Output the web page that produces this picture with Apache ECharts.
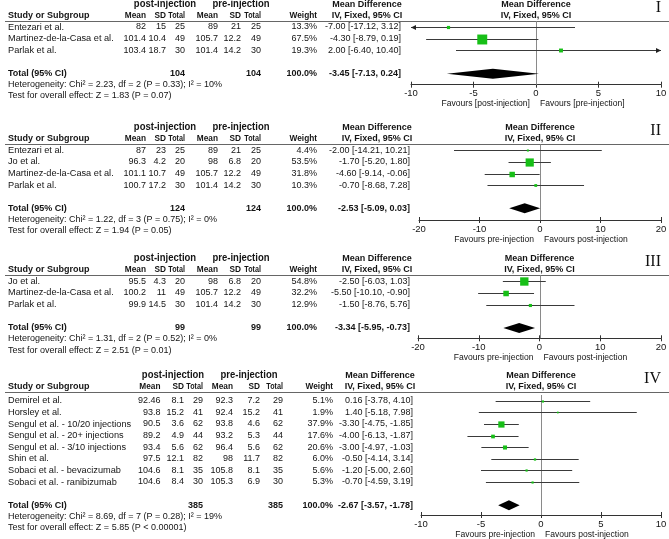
<!DOCTYPE html>
<html><head><meta charset="utf-8">
<script src="https://cdn.jsdelivr.net/npm/echarts@6/dist/echarts.min.js"></script>
<style>html,body{margin:0;padding:0;background:#fff}#c{width:669px;height:539px}</style>
</head><body><div id="c"></div>
<script>
// ---------- Panel I ----------
const p1Studies = ['Entezari et al.', 'Martinez-de-la-Casa et al.', 'Parlak et al.'];
const p1PostMean = [82, 101.4, 103.4];
const p1PostSD = [15, 10.4, 18.7];
const p1PostN = [25, 49, 30];
const p1PreMean = [89, 105.7, 101.4];
const p1PreSD = [21, 12.2, 14.2];
const p1PreN = [25, 49, 30];
const p1Weight = [13.3, 67.5, 19.3];
const p1MD = [-7.00, -4.30, 2.00];
const p1Lo = [-17.12, -8.79, -6.40];
const p1Hi = [3.12, 0.19, 10.40];
const p1Total = [104, 104, -3.45, -7.13, 0.24];
const p1Het = 'Heterogeneity: Chi² = 2.23, df = 2 (P = 0.33); I² = 10%';
const p1Test = 'Test for overall effect: Z = 1.83 (P = 0.07)';
const p1Favours = ['Favours [post-injection]', 'Favours [pre-injection]'];
const p1Ticks = [-10, -5, 0, 5, 10];

// ---------- Panel II ----------
const p2Studies = ['Entezari et al.', 'Jo et al.', 'Martinez-de-la-Casa et al.', 'Parlak et al.'];
const p2PostMean = [87, 96.3, 101.1, 100.7];
const p2PostSD = [23, 4.2, 10.7, 17.2];
const p2PostN = [25, 20, 49, 30];
const p2PreMean = [89, 98, 105.7, 101.4];
const p2PreSD = [21, 6.8, 12.2, 14.2];
const p2PreN = [25, 20, 49, 30];
const p2Weight = [4.4, 53.5, 31.8, 10.3];
const p2MD = [-2.00, -1.70, -4.60, -0.70];
const p2Lo = [-14.21, -5.20, -9.14, -8.68];
const p2Hi = [10.21, 1.80, -0.06, 7.28];
const p2Total = [124, 124, -2.53, -5.09, 0.03];
const p2Het = 'Heterogeneity: Chi² = 1.22, df = 3 (P = 0.75); I² = 0%';
const p2Test = 'Test for overall effect: Z = 1.94 (P = 0.05)';
const p2Favours = ['Favours pre-injection', 'Favours post-injection'];
const p2Ticks = [-20, -10, 0, 10, 20];

// ---------- Panel III ----------
const p3Studies = ['Jo et al.', 'Martinez-de-la-Casa et al.', 'Parlak et al.'];
const p3PostMean = [95.5, 100.2, 99.9];
const p3PostSD = [4.3, 11, 14.5];
const p3PostN = [20, 49, 30];
const p3PreMean = [98, 105.7, 101.4];
const p3PreSD = [6.8, 12.2, 14.2];
const p3PreN = [20, 49, 30];
const p3Weight = [54.8, 32.2, 12.9];
const p3MD = [-2.50, -5.50, -1.50];
const p3Lo = [-6.03, -10.10, -8.76];
const p3Hi = [1.03, -0.90, 5.76];
const p3Total = [99, 99, -3.34, -5.95, -0.73];
const p3Het = 'Heterogeneity: Chi² = 1.31, df = 2 (P = 0.52); I² = 0%';
const p3Test = 'Test for overall effect: Z = 2.51 (P = 0.01)';
const p3Favours = ['Favours pre-injection', 'Favours post-injection'];
const p3Ticks = [-20, -10, 0, 10, 20];

// ---------- Panel IV ----------
const p4Studies = ['Demirel et al.', 'Horsley et al.', 'Sengul et al. - 10/20 injections', 'Sengul et al. - 20+ injections',
  'Sengul et al. - 3/10 injections', 'Shin et al.', 'Sobaci et al. - bevacizumab', 'Sobaci et al. - ranibizumab'];
const p4PostMean = [92.46, 93.8, 90.5, 89.2, 93.4, 97.5, 104.6, 104.6];
const p4PostSD = [8.1, 15.2, 3.6, 4.9, 5.6, 12.1, 8.1, 8.4];
const p4PostN = [29, 41, 62, 44, 62, 82, 35, 30];
const p4PreMean = [92.3, 92.4, 93.8, 93.2, 96.4, 98, 105.8, 105.3];
const p4PreSD = [7.2, 15.2, 4.6, 5.3, 5.6, 11.7, 8.1, 6.9];
const p4PreN = [29, 41, 62, 44, 62, 82, 35, 30];
const p4Weight = [5.1, 1.9, 37.9, 17.6, 20.6, 6.0, 5.6, 5.3];
const p4MD = [0.16, 1.40, -3.30, -4.00, -3.00, -0.50, -1.20, -0.70];
const p4Lo = [-3.78, -5.18, -4.75, -6.13, -4.97, -4.14, -5.00, -4.59];
const p4Hi = [4.10, 7.98, -1.85, -1.87, -1.03, 3.14, 2.60, 3.19];
const p4Total = [385, 385, -2.67, -3.57, -1.78];
const p4Het = 'Heterogeneity: Chi² = 8.69, df = 7 (P = 0.28); I² = 19%';
const p4Test = 'Test for overall effect: Z = 5.85 (P < 0.00001)';
const p4Favours = ['Favours pre-injection', 'Favours post-injection'];
const p4Ticks = [-10, -5, 0, 5, 10];

const colHeaders = ['Mean', 'SD', 'Total', 'Mean', 'SD', 'Total', 'Weight'];

// ---------- layout (positions / styles only) ----------
const FONT = '"Liberation Sans", Arial, Helvetica, sans-serif';
const SERIF = '"Liberation Serif", "Times New Roman", serif';
const TXT = '#141414';
const hdrScale = [0.92, 0.92, 0.8, 0.92, 0.92, 0.8, 0.92];
const colsABC = [146, 166, 185, 218, 241, 261, 317];
const colsD = [160.5, 184, 203, 233, 260, 283, 333];

const panels = [
  {studies: p1Studies, postMean: p1PostMean, postSD: p1PostSD, postN: p1PostN, preMean: p1PreMean, preSD: p1PreSD, preN: p1PreN,
   weight: p1Weight, md: p1MD, lo: p1Lo, hi: p1Hi, total: p1Total, het: p1Het, test: p1Test, fav: p1Favours, ticks: p1Ticks, roman: 'I',
   L: {lineY: 21, firstRow: 27, rowH: 11.7, axisGap: 10.9, left: 411, right: 661, cols: colsABC, grp: [165, 241], mdRight: 401, mdHdr: 367}},
  {studies: p2Studies, postMean: p2PostMean, postSD: p2PostSD, postN: p2PostN, preMean: p2PreMean, preSD: p2PreSD, preN: p2PreN,
   weight: p2Weight, md: p2MD, lo: p2Lo, hi: p2Hi, total: p2Total, het: p2Het, test: p2Test, fav: p2Favours, ticks: p2Ticks, roman: 'II',
   L: {lineY: 144, firstRow: 150.3, rowH: 11.6, axisGap: 11.7, left: 419, right: 661, cols: colsABC, grp: [165, 241], mdRight: 410, mdHdr: 377}},
  {studies: p3Studies, postMean: p3PostMean, postSD: p3PostSD, postN: p3PostN, preMean: p3PreMean, preSD: p3PreSD, preN: p3PreN,
   weight: p3Weight, md: p3MD, lo: p3Lo, hi: p3Hi, total: p3Total, het: p3Het, test: p3Test, fav: p3Favours, ticks: p3Ticks, roman: 'III',
   L: {lineY: 274.8, firstRow: 281.2, rowH: 11.7, axisGap: 10.3, left: 418, right: 661, cols: colsABC, grp: [165, 241], mdRight: 410, mdHdr: 377}},
  {studies: p4Studies, postMean: p4PostMean, postSD: p4PostSD, postN: p4PostN, preMean: p4PreMean, preSD: p4PreSD, preN: p4PreN,
   weight: p4Weight, md: p4MD, lo: p4Lo, hi: p4Hi, total: p4Total, het: p4Het, test: p4Test, fav: p4Favours, ticks: p4Ticks, roman: 'IV',
   L: {lineY: 392, firstRow: 400.8, rowH: 11.6, axisGap: 9.8, left: 421, right: 661, cols: colsD, grp: [173, 249], mdRight: 413, mdHdr: 380}}
];

const chart = echarts.init(document.getElementById('c'), null, {renderer: 'canvas'});

const grids = [], xAxes = [], yAxes = [], series = [];
panels.forEach((p, k) => {
  const L = p.L, n = p.studies.length;
  const top = L.firstRow - L.rowH / 2;
  const height = L.rowH * (n + 2);
  const offset = L.axisGap - L.rowH / 2;
  grids.push({left: L.left, top: top, width: L.right - L.left, height: height, outerBoundsMode: 'none', containLabel: false});
  const t = p.ticks;
  const baseAx = {type: 'value', gridIndex: k, min: t[0], max: t[t.length - 1], interval: t[1] - t[0],
    position: 'bottom', offset: offset, splitLine: {show: false}};
  xAxes.push(Object.assign({}, baseAx, {
    axisLine: {show: true, onZero: false, lineStyle: {color: '#333', width: 1}},
    axisTick: {show: true, length: 3, lineStyle: {color: '#333', width: 1}},
    axisLabel: {show: true, fontSize: 9.5, color: TXT, fontFamily: FONT, margin: 4, showMinLabel: true, showMaxLabel: true}
  }));
  xAxes.push(Object.assign({}, baseAx, {
    axisLine: {show: false, onZero: false},
    axisTick: {show: true, inside: true, length: 3, lineStyle: {color: '#333', width: 1}},
    axisLabel: {show: false}
  }));
  yAxes.push({type: 'category', gridIndex: k, inverse: true, show: false, boundaryGap: true,
    data: p.studies.concat(['', 'Total (95% CI)'])});
  const xi = k * 2;
  // zero line
  series.push({type: 'custom', xAxisIndex: xi, yAxisIndex: k, silent: true, clip: false,
    data: [[0, 0]],
    renderItem: function (params, api) {
      const cs = params.coordSys;
      const x = Math.round(api.coord([0, 0])[0]) + 0.5;
      return {type: 'line', shape: {x1: x, y1: cs.y, x2: x, y2: cs.y + cs.height + offset},
        style: {stroke: '#8a8a8a', lineWidth: 1}};
    }});
  // studies
  series.push({type: 'custom', xAxisIndex: xi, yAxisIndex: k, silent: true, clip: false,
    data: p.studies.map((s, i) => [p.md[i], i, p.lo[i], p.hi[i], p.weight[i]]),
    renderItem: function (params, api) {
      const cs = params.coordSys;
      const yi = api.value(1);
      const md = api.value(0), lo = api.value(2), hi = api.value(3), w = api.value(4);
      const y = Math.round(api.coord([0, yi])[1]) + 0.5;
      const x0 = cs.x, x1 = cs.x + cs.width;
      let xl = api.coord([lo, yi])[0], xr = api.coord([hi, yi])[0];
      const xm = api.coord([md, yi])[0];
      const arrowL = xl < x0 - 0.5, arrowR = xr > x1 + 0.5;
      xl = Math.max(xl, x0); xr = Math.min(xr, x1);
      const ch = [{type: 'line', shape: {x1: xl, y1: y, x2: xr, y2: y}, style: {stroke: '#3a3a3a', lineWidth: 1}}];
      if (arrowL) ch.push({type: 'polygon', shape: {points: [[x0, y], [x0 + 5, y - 2.5], [x0 + 5, y + 2.5]]}, style: {fill: '#222'}});
      if (arrowR) ch.push({type: 'polygon', shape: {points: [[x1, y], [x1 - 5, y - 2.5], [x1 - 5, y + 2.5]]}, style: {fill: '#222'}});
      const s = 1.5 + 0.125 * w;
      ch.push({type: 'rect', shape: {x: xm - s / 2, y: y - s / 2, width: s, height: s}, style: {fill: '#17bf17'}});
      return {type: 'group', children: ch};
    }});
  // total diamond
  series.push({type: 'custom', xAxisIndex: xi, yAxisIndex: k, silent: true, clip: false,
    data: [[p.total[2], n + 1, p.total[3], p.total[4]]],
    renderItem: function (params, api) {
      const yi = api.value(1);
      const y = api.coord([0, yi])[1];
      const xm = api.coord([api.value(0), yi])[0];
      const xl = api.coord([api.value(2), yi])[0];
      const xr = api.coord([api.value(3), yi])[0];
      return {type: 'polygon', shape: {points: [[xl, y], [xm, y - 5], [xr, y], [xm, y + 5]]}, style: {fill: '#000'}};
    }});
});

chart.setOption({animation: false, backgroundColor: '#fff', grid: grids, xAxis: xAxes, yAxis: yAxes, series: series});

// ---------- table text ----------
function txt(text, x, y, align, opts) {
  opts = opts || {};
  return {type: 'text', silent: true, x: x, y: y, scaleX: opts.sx == null ? 1 : opts.sx,
    style: {text: String(text), x: 0, y: 0, fill: opts.fill || TXT, textAlign: align, align: align,
      textVerticalAlign: 'middle', verticalAlign: 'middle',
      fontSize: opts.size || 9.2, fontWeight: opts.bold ? 'bold' : 'normal', fontFamily: opts.family || FONT}};
}
const g = [];
panels.forEach((p, k) => {
  const L = p.L, n = p.studies.length, c = L.cols;
  const zeroX = chart.convertToPixel({xAxisIndex: k * 2}, 0);
  const rowY = i => L.firstRow + L.rowH * i;
  const totalY = rowY(n + 1);
  const axisY = totalY + L.axisGap;
  const h1 = L.lineY - 16.5, h2 = L.lineY - 5;
  const B = {bold: true, size: 9};
  const G = {bold: true, size: 10, sx: 0.95};
  g.push(txt('post-injection', L.grp[0], h1, 'center', G));
  g.push(txt('pre-injection', L.grp[1], h1, 'center', G));
  g.push(txt('Mean Difference', L.mdHdr, h1, 'center', B));
  g.push(txt('Mean Difference', zeroX, h1, 'center', B));
  g.push(txt(p.roman, 661, h1 + 3.5, 'right', {size: 16, family: SERIF, fill: '#111'}));
  g.push(txt('Study or Subgroup', 8, h2, 'left', B));
  colHeaders.forEach((hd, j) => g.push(txt(hd, c[j], h2, 'right', {bold: true, size: 9, sx: hdrScale[j]})));
  g.push(txt('IV, Fixed, 95% CI', L.mdHdr, h2, 'center', B));
  g.push(txt('IV, Fixed, 95% CI', zeroX, h2, 'center', B));
  g.push({type: 'line', silent: true, shape: {x1: 5, y1: Math.round(L.lineY) + 0.5, x2: 669, y2: Math.round(L.lineY) + 0.5},
    style: {stroke: '#666', lineWidth: 1}});
  p.studies.forEach((s, i) => {
    const y = rowY(i);
    g.push(txt(s, 8, y, 'left'));
    const vals = [p.postMean[i], p.postSD[i], p.postN[i], p.preMean[i], p.preSD[i], p.preN[i], p.weight[i].toFixed(1) + '%'];
    vals.forEach((v, j) => g.push(txt(v, c[j], y, 'right', {size: 9})));
    g.push(txt(p.md[i].toFixed(2) + ' [' + p.lo[i].toFixed(2) + ', ' + p.hi[i].toFixed(2) + ']', L.mdRight, y, 'right', {size: 9}));
  });
  const TB = {bold: true, size: 9};
  g.push(txt('Total (95% CI)', 8, totalY, 'left', TB));
  g.push(txt(p.total[0], c[2], totalY, 'right', TB));
  g.push(txt(p.total[1], c[5], totalY, 'right', TB));
  g.push(txt('100.0%', c[6], totalY, 'right', TB));
  g.push(txt(p.total[2].toFixed(2) + ' [' + p.total[3].toFixed(2) + ', ' + p.total[4].toFixed(2) + ']', L.mdRight, totalY, 'right', TB));
  g.push(txt(p.het, 8, totalY + 11, 'left', {size: 9}));
  g.push(txt(p.test, 8, totalY + 22.2, 'left', {size: 9}));
  g.push(txt(p.fav[0], zeroX - 6, axisY + 19, 'right', {size: 9.5, sx: 0.9}));
  g.push(txt(p.fav[1], zeroX + 4, axisY + 19, 'left', {size: 9.5, sx: 0.9}));
});
chart.setOption({graphic: {elements: g}});
</script>
</body></html>
